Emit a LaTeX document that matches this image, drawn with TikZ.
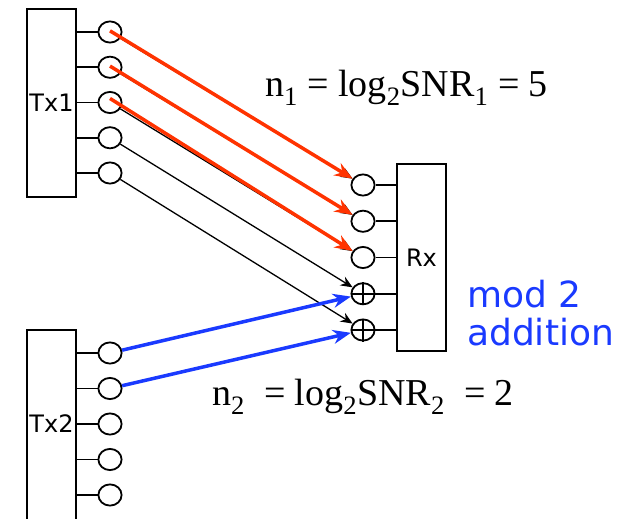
\documentclass[tikz,border=0pt]{standalone}
\usepackage{fontspec}
\setmainfont{Liberation Serif}
\newfontfamily\labelfont{DejaVu Sans}
\usetikzlibrary{arrows.meta,calc,shapes.geometric}
\definecolor{bitred}{RGB}{255,51,0}
\definecolor{bitblue}{RGB}{26,58,255}
\tikzset{
  block/.style={draw, line width=1.9pt, minimum width=49.1pt, inner sep=0pt,
    font=\labelfont\fontsize{24}{24}\selectfont},
  bit/.style={draw, ellipse, line width=1.8pt, minimum width=23.2pt,
    minimum height=21.2pt, inner sep=0pt},
  stub/.style={line width=1.8pt},
  link/.style={line width=1.3pt, -{Stealth[length=12pt,width=10pt]}},
  redlink/.style={bitred, line width=3.5pt, -{Stealth[length=18pt,width=14pt]}},
  bluelink/.style={bitblue, line width=3.5pt, -{Stealth[length=18pt,width=14pt]}},
  eqn/.style={anchor=base west, inner sep=0pt, font=\fontsize{38}{38}\selectfont},
  note/.style={anchor=base west, inner sep=0pt, text=bitblue,
    font=\labelfont\fontsize{36}{36}\selectfont}
}
\begin{document}
\begin{tikzpicture}[x=1pt,y=-1pt]
  \clip (0,0) rectangle (635,519);
  % transmitters and receiver
  \node[block, minimum height=188.1pt] (tx1) at (51.5,103) {Tx1};
  \node[block, minimum height=220pt] (tx2) at (51.5,439.95) {};
  \node[font=\labelfont\fontsize{24}{24}\selectfont] (tx2l) at (51.5,424) {Tx2};
  \node[block, minimum height=187.1pt] (rx) at (421.5,257.5) {Rx};
  % bits of Tx1
  \node[bit] (t11) at (110,32) {};
  \node[bit] (t12) at (110,67.25) {};
  \node[bit] (t13) at (110,102.5) {};
  \node[bit] (t14) at (110,137.75) {};
  \node[bit] (t15) at (110,173) {};
  % bits of Tx2
  \node[bit] (t21) at (110,353) {};
  \node[bit] (t22) at (110,388.5) {};
  \node[bit] (t23) at (110,424) {};
  \node[bit] (t24) at (110,459.5) {};
  \node[bit] (t25) at (110,495) {};
  % bits of Rx
  \node[bit] (r1) at (363,185) {};
  \node[bit] (r2) at (363,221.25) {};
  \node[bit] (r3) at (363,257.5) {};
  \node[bit] (r4) at (363,293.75) {};
  \node[bit] (r5) at (363,330) {};
  \draw[stub] (r4.north) -- (r4.south);
  \draw[stub] (r4.west) -- (r4.east);
  \draw[stub] (r5.north) -- (r5.south);
  \draw[stub] (r5.west) -- (r5.east);
  % stubs
  \draw[stub] (tx1.east |- t11) -- (t11.west);
  \draw[stub] (tx1.east |- t12) -- (t12.west);
  \draw[stub] (tx1.east |- t13) -- (t13.west);
  \draw[stub] (tx1.east |- t14) -- (t14.west);
  \draw[stub] (tx1.east |- t15) -- (t15.west);
  \draw[stub] (tx2.east |- t21) -- (t21.west);
  \draw[stub] (tx2.east |- t22) -- (t22.west);
  \draw[stub] (tx2.east |- t23) -- (t23.west);
  \draw[stub] (tx2.east |- t24) -- (t24.west);
  \draw[stub] (tx2.east |- t25) -- (t25.west);
  \draw[stub] (r1.east) -- (rx.west |- r1);
  \draw[stub] (r2.east) -- (rx.west |- r2);
  \draw[stub] (r3.east) -- (rx.west |- r3);
  \draw[stub] (r4.east) -- (rx.west |- r4);
  \draw[stub] (r5.east) -- (rx.west |- r5);
  % links
  \draw[link] (t11) -- (r1);
  \draw[link] (t12) -- (r2);
  \draw[link] (t13) -- (r3);
  \draw[link] (t14) -- (r4);
  \draw[link] (t15) -- (r5);
  \draw[redlink] ($(t11)!0.1!(t11.north)$) -- (r1);
  \draw[redlink] ($(t12)!0.1!(t12.north)$) -- (r2);
  \draw[redlink] ($(t13)!0.35!(t13.north)$) -- (r3);
  \draw[bluelink] (t21) -- (r4);
  \draw[bluelink] (t22) -- (r5);
  % labels
  \node[eqn] (eq1) at (265,96.5) {n\textsubscript{1} = log\textsubscript{2}SNR\textsubscript{1} = 5};
  \node[eqn] (eq2) at (212,405) {n\textsubscript{2}\ \ = log\textsubscript{2}SNR\textsubscript{2}\ \ = 2};
  \node[note] (mod) at (467,307) {mod 2};
  \node[note] (add) at (467,345) {addition};
\end{tikzpicture}
\end{document}
